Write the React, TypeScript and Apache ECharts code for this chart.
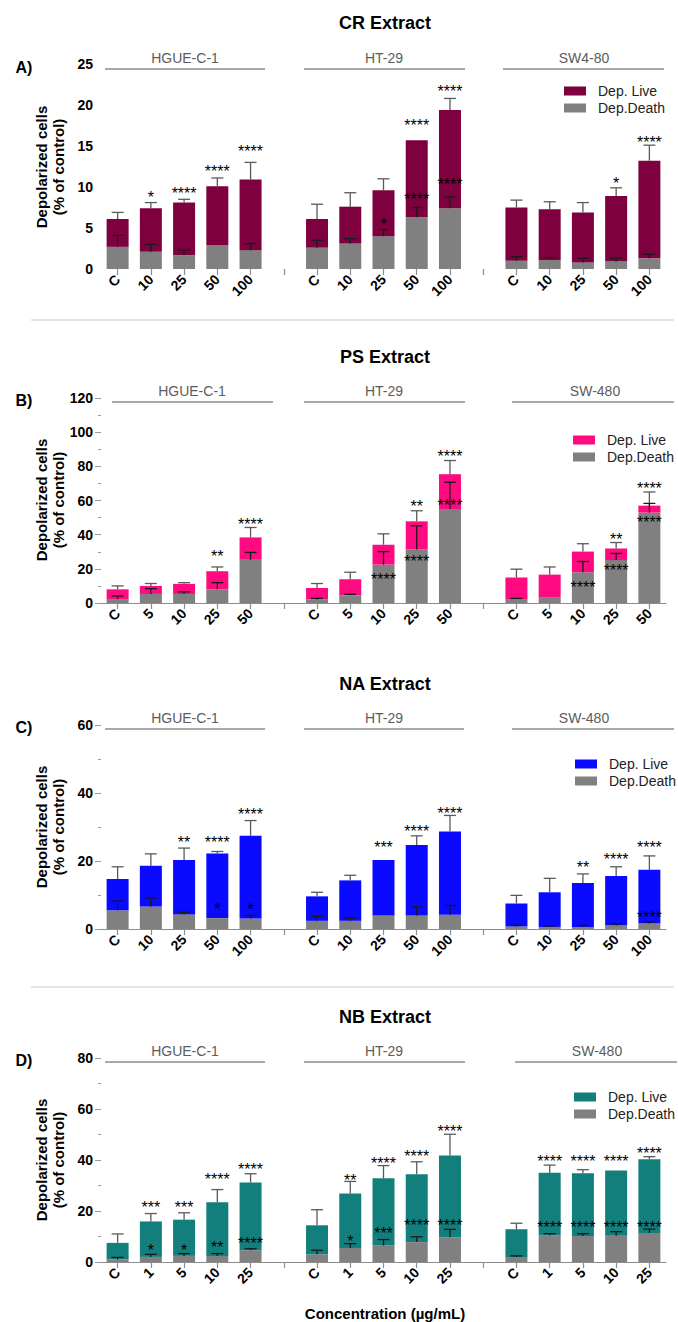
import React, { useEffect, useRef } from "react";
import * as echarts from "echarts";

const FONT = "'Liberation Sans', Arial, Helvetica, sans-serif";

// ---------- categories ----------
const dosesCR = ["C", "10", "25", "50", "100"];
const dosesPS = ["C", "5", "10", "25", "50"];
const dosesNA = ["C", "10", "25", "50", "100"];
const dosesNB = ["C", "1", "5", "10", "25"];
const cellsCR = ["HGUE-C-1", "HT-29", "SW4-80"];
const cellsOther = ["HGUE-C-1", "HT-29", "SW-480"];
const legendNames = ["Dep. Live", "Dep.Death"];

// ---------- CR extract ----------
const crTotal = [6.1, 7.4, 8.1, 10.1, 10.9, 6.1, 7.6, 9.6, 15.7, 19.4, 7.5, 7.3, 6.9, 8.9, 13.2];
const crDeath = [2.7, 2.1, 1.7, 2.9, 2.3, 2.6, 3.1, 4.0, 6.3, 7.4, 1.0, 1.1, 0.8, 0.9, 1.3];
const crTotalErr = [6.9, 8.1, 8.5, 11.1, 13.0, 7.9, 9.3, 11.0, null, 20.8, 8.4, 8.2, 8.1, 9.9, 15.1];
const crDeathErr = [4.1, 3.0, 2.3, null, 3.1, 3.5, 3.7, 4.8, 7.5, 8.8, 1.5, 1.4, 1.3, 1.3, 1.8];
const crTopStars = ["", "*", "****", "****", "****", "", "", "", "****", "****", "", "", "", "*", "****"];
const crTopStarAt = [null, 9.1, 9.55, 12.3, 14.7, null, null, null, 17.85, 22.0, null, null, null, 10.85, 15.8];
const crDeathStars = ["", "", "", "", "", "", "", "*", "****", "****", "", "", "", "", ""];
const crDeathStarAt = [null, null, null, null, null, null, null, 5.85, 8.9, 10.7, null, null, null, null, null];

// ---------- PS extract ----------
const psTotal = [8.0, 10.0, 11.2, 18.6, 38.4, 8.8, 13.9, 34.1, 47.8, 75.4, 14.9, 16.6, 30.1, 31.9, 57.0];
const psDeath = [2.3, 5.3, 5.3, 8.0, 25.3, 2.0, 4.5, 22.5, 31.3, 55.0, 2.3, 3.1, 18.0, 25.1, 52.9];
const psTotalErr = [10.0, 11.4, 11.9, 21.1, 44.2, 11.4, 18.0, 40.5, 54.0, 83.4, 19.8, 21.1, 34.7, 35.4, 65.0];
const psDeathErr = [4.1, 8.4, 6.5, 11.9, 29.6, 2.7, 5.1, 30.1, 45.2, 70.7, 2.7, null, 24.3, 29.0, 58.3];
const psTopStars = ["", "", "", "**", "****", "", "", "", "**", "****", "", "", "", "**", "****"];
const psTopStarAt = [null, null, null, 29.0, 48.0, null, null, null, 58.3, 87.7, null, null, null, 39.2, 68.9];
const psDeathStars = ["", "", "", "", "", "", "", "****", "****", "****", "", "", "****", "****", "****"];
const psDeathStarAt = [null, null, null, null, null, null, null, 15.7, 26.2, 59.1, null, null, 11.0, 20.8, 48.9];

// ---------- NA extract ----------
const naTotal = [14.7, 18.6, 20.3, 22.2, 27.4, 9.6, 14.3, 20.3, 24.7, 28.7, 7.5, 10.8, 13.5, 15.6, 17.4];
const naDeath = [5.5, 6.6, 4.3, 3.2, 3.1, 2.4, 2.4, 4.0, 4.0, 4.2, 0.7, 0.6, 0.6, 1.0, 1.6];
const naTotalErr = [18.3, 22.1, 23.8, 22.8, 31.9, 10.8, 15.8, null, 27.4, 33.4, 9.9, 14.9, 16.2, 18.3, 21.5];
const naDeathErr = [8.2, 9.1, 4.9, null, 4.0, 3.7, 3.2, null, 6.5, 6.9, 1.1, 0.9, 1.1, 1.5, 2.1];
const naTopStars = ["", "", "**", "****", "****", "", "", "***", "****", "****", "", "", "**", "****", "****"];
const naTopStarAt = [null, null, 26.2, 26.2, 34.5, null, null, 24.8, 29.5, 35.0, null, null, 19.1, 21.3, 24.8];
const naDeathStars = ["", "", "", "*", "*", "", "", "", "", "", "", "", "", "", "****"];
const naDeathStarAt = [null, null, null, 6.65, 6.65, null, null, null, null, null, null, null, null, null, 4.4];

// ---------- NB extract ----------
const nbTotal = [7.5, 15.9, 16.6, 23.4, 31.2, 14.4, 26.9, 32.8, 34.4, 41.8, 12.8, 35.0, 34.8, 35.9, 40.3];
const nbDeath = [1.0, 2.0, 2.4, 2.4, 4.6, 3.0, 5.5, 6.5, 7.8, 9.7, 2.0, 10.5, 10.2, 10.3, 11.4];
const nbTotalErr = [11.0, 19.0, 19.3, 28.4, 34.6, 20.5, 31.6, 37.8, 39.3, 50.1, 15.2, 38.0, 36.2, null, 41.3];
const nbDeathErr = [1.8, 3.0, 3.3, 3.3, 5.2, 4.6, 7.2, 8.8, 9.9, 12.8, 2.4, 11.1, 11.1, 11.9, 12.9];
const nbTopStars = ["", "***", "***", "****", "****", "", "**", "****", "****", "****", "", "****", "****", "****", "****"];
const nbTopStarAt = [null, 22.5, 22.5, 33.6, 37.6, null, 33.3, 39.9, 42.5, 52.3, null, 40.5, 40.5, 40.5, 43.8];
const nbDeathStars = ["", "*", "*", "**", "****", "", "*", "***", "****", "****", "", "****", "****", "****", "****"];
const nbDeathStarAt = [null, 5.6, 5.6, 6.9, 8.5, null, 9.15, 12.2, 15.4, 15.4, null, 14.6, 14.6, 14.6, 14.6];

type Num = number | null;
interface Panel {
  key: string;
  title: string;
  letter: string;
  color: string;
  doses: string[];
  cells: string[];
  total: number[];
  death: number[];
  totalErr: Num[];
  deathErr: Num[];
  topStars: string[];
  topStarAt: Num[];
  deathStars: string[];
  deathStarAt: Num[];
  yMax: number;
  yInterval: number;
  yTicks: boolean;
  baseline: boolean;
  // layout (page coordinates)
  top: number;
  height: number;
  gridTop: number;
  gridBottom: number;
  titleY: number;
  letterY: number;
  yTitleY: number;
  groupLabelY: number;
  groupLineY: number;
  groupLines: [number, number][];
  groupLabelX: number[];
  legendLeft: number;
  legendTop: number;
  sepY?: number;
  xTitle?: string;
  xTitleY?: number;
}

const PANELS: Panel[] = [
  {
    key: "A", title: "CR Extract", letter: "A)", color: "#7f003f",
    doses: dosesCR, cells: cellsCR,
    total: crTotal, death: crDeath, totalErr: crTotalErr, deathErr: crDeathErr,
    topStars: crTopStars, topStarAt: crTopStarAt, deathStars: crDeathStars, deathStarAt: crDeathStarAt,
    yMax: 25, yInterval: 5, yTicks: false, baseline: false,
    top: 0, height: 315, gridTop: 64, gridBottom: 269, titleY: 23, letterY: 67, yTitleY: 167,
    groupLabelY: 58, groupLineY: 69,
    groupLines: [[105, 265], [304, 465], [503, 664]], groupLabelX: [185, 384, 584],
    legendLeft: 564, legendTop: 84,
  },
  {
    key: "B", title: "PS Extract", letter: "B)", color: "#ff0a80",
    doses: dosesPS, cells: cellsOther,
    total: psTotal, death: psDeath, totalErr: psTotalErr, deathErr: psDeathErr,
    topStars: psTopStars, topStarAt: psTopStarAt, deathStars: psDeathStars, deathStarAt: psDeathStarAt,
    yMax: 120, yInterval: 20, yTicks: true, baseline: true,
    top: 315, height: 330, gridTop: 398, gridBottom: 603, titleY: 357, letterY: 400, yTitleY: 500,
    groupLabelY: 391, groupLineY: 402,
    groupLines: [[112, 273], [304, 465], [512, 674]], groupLabelX: [192, 384, 595],
    legendLeft: 573, legendTop: 433, sepY: 320,
  },
  {
    key: "C", title: "NA Extract", letter: "C)", color: "#0a0aff",
    doses: dosesNA, cells: cellsOther,
    total: naTotal, death: naDeath, totalErr: naTotalErr, deathErr: naDeathErr,
    topStars: naTopStars, topStarAt: naTopStarAt, deathStars: naDeathStars, deathStarAt: naDeathStarAt,
    yMax: 60, yInterval: 20, yTicks: true, baseline: true,
    top: 645, height: 337, gridTop: 725, gridBottom: 929, titleY: 684, letterY: 727, yTitleY: 827,
    groupLabelY: 718, groupLineY: 729,
    groupLines: [[105, 265], [304, 464], [512, 674]], groupLabelX: [185, 384, 584],
    legendLeft: 575, legendTop: 757,
  },
  {
    key: "D", title: "NB Extract", letter: "D)", color: "#127f7d",
    doses: dosesNB, cells: cellsOther,
    total: nbTotal, death: nbDeath, totalErr: nbTotalErr, deathErr: nbDeathErr,
    topStars: nbTopStars, topStarAt: nbTopStarAt, deathStars: nbDeathStars, deathStarAt: nbDeathStarAt,
    yMax: 80, yInterval: 20, yTicks: true, baseline: true,
    top: 982, height: 340, gridTop: 1058, gridBottom: 1262, titleY: 1017, letterY: 1060, yTitleY: 1160,
    groupLabelY: 1051, groupLineY: 1062,
    groupLines: [[105, 265], [304, 465], [515, 677]], groupLabelX: [185, 384, 597],
    legendLeft: 574, legendTop: 1090, sepY: 987,
    xTitle: "Concentration (\u00b5g/mL)", xTitleY: 1313,
  },
];

const GRID_LEFT = 101;
const GRID_WIDTH = 565;

function buildOption(p: Panel): any {
  const L = (y: number) => y - p.top;
  const cats: string[] = [];
  p.cells.forEach((_, g) => {
    if (g > 0) cats.push("");
    p.doses.forEach((d) => cats.push(d));
  });
  const idx = (i: number) => i + Math.floor(i / 5);
  const pad = (vals: number[]) => {
    const out: any[] = new Array(cats.length).fill("-");
    vals.forEach((v, i) => (out[idx(i)] = v));
    return out;
  };
  const live = p.total.map((t, i) => Math.round((t - p.death[i]) * 100) / 100);

  const errData: number[][] = [];
  const errColors: string[] = [];
  p.total.forEach((t, i) => {
    const e = p.totalErr[i];
    if (e != null) { errData.push([idx(i), t, e]); errColors.push("#5a5a5a"); }
  });
  p.death.forEach((d, i) => {
    const e = p.deathErr[i];
    if (e != null) { errData.push([idx(i), d, e]); errColors.push("#1a1a1a"); }
  });

  const starData: number[][] = [];
  const starLabels: string[] = [];
  p.topStars.forEach((s, i) => {
    const a = p.topStarAt[i];
    if (s && a != null) { starData.push([idx(i), a]); starLabels.push(s); }
  });
  p.deathStars.forEach((s, i) => {
    const a = p.deathStarAt[i];
    if (s && a != null) { starData.push([idx(i), a]); starLabels.push(s); }
  });

  const graphic: any[] = [
    {
      type: "text", x: 385, y: L(p.titleY),
      style: { text: p.title, fontSize: 18, fontWeight: "bold", fontFamily: FONT, fill: "#000",
        align: "center", verticalAlign: "middle", textAlign: "center", textVerticalAlign: "middle" },
    },
    {
      type: "text", x: 24, y: L(p.letterY),
      style: { text: p.letter, fontSize: 16, fontWeight: "bold", fontFamily: FONT, fill: "#000",
        align: "center", verticalAlign: "middle", textAlign: "center", textVerticalAlign: "middle" },
    },
    {
      type: "text", x: 50, y: L(p.yTitleY), rotation: Math.PI / 2,
      style: { text: "Depolarized cells\n(% of control)", fontSize: 15, fontWeight: "bold", fontFamily: FONT,
        fill: "#000", lineHeight: 17, align: "center", verticalAlign: "middle", textAlign: "center", textVerticalAlign: "middle" },
    },
  ];
  p.cells.forEach((c, g) => {
    graphic.push({
      type: "text", x: p.groupLabelX[g], y: L(p.groupLabelY),
      style: { text: c, fontSize: 14, fontFamily: FONT, fill: "#5c5c5c",
        align: "center", verticalAlign: "middle", textAlign: "center", textVerticalAlign: "middle" },
    });
    graphic.push({
      type: "line",
      shape: { x1: p.groupLines[g][0], y1: L(p.groupLineY), x2: p.groupLines[g][1], y2: L(p.groupLineY) },
      style: { stroke: "#8c8c8c", lineWidth: 1.5 },
    });
  });
  if (p.sepY != null) {
    graphic.push({
      type: "line", shape: { x1: 31, y1: L(p.sepY), x2: 674, y2: L(p.sepY) },
      style: { stroke: "#dcdcdc", lineWidth: 1.5 },
    });
  }
  if (p.xTitle && p.xTitleY != null) {
    graphic.push({
      type: "text", x: 385, y: L(p.xTitleY),
      style: { text: p.xTitle, fontSize: 15, fontWeight: "bold", fontFamily: FONT, fill: "#000",
        align: "center", verticalAlign: "middle", textAlign: "center", textVerticalAlign: "middle" },
    });
  }

  return {
    animation: false,
    textStyle: { fontFamily: FONT },
    grid: { left: GRID_LEFT, width: GRID_WIDTH, top: L(p.gridTop), height: p.gridBottom - p.gridTop },
    legend: {
      data: legendNames,
      orient: "vertical",
      left: p.legendLeft,
      top: L(p.legendTop),
      padding: 0,
      itemGap: 3,
      itemWidth: 22,
      itemHeight: 9,
      icon: "rect",
      selectedMode: false,
      textStyle: { fontSize: 14, color: "#222", fontFamily: FONT, padding: [0, 0, 0, 7] },
    },
    xAxis: {
      type: "category",
      data: cats,
      axisLine: { show: p.baseline, lineStyle: { color: "#8c8c8c", width: 1.2 } },
      axisTick: { show: true, alignWithLabel: true, interval: 0, length: 6, lineStyle: { color: "#8c8c8c", width: 1.2 } },
      axisLabel: { interval: 0, rotate: 45, fontSize: 14, fontWeight: "bold", color: "#000", margin: 8, fontFamily: FONT },
    },
    yAxis: {
      type: "value",
      min: 0,
      max: p.yMax,
      interval: p.yInterval,
      splitLine: { show: false },
      axisLine: { show: false },
      axisTick: { show: p.yTicks, length: 6, lineStyle: { color: "#9a9a9a" } },
      minorTick: { show: p.yTicks, splitNumber: 2, length: 3, lineStyle: { color: "#9a9a9a" } },
      axisLabel: { fontSize: 14, fontWeight: "bold", color: "#000", margin: 8, fontFamily: FONT },
    },
    series: [
      {
        type: "bar", name: "Dep.Death", stack: "dep", data: pad(p.death), barWidth: 22,
        itemStyle: { color: "#808080" },
      },
      {
        type: "bar", name: "Dep. Live", stack: "dep", data: pad(live), barWidth: 22,
        itemStyle: { color: p.color },
      },
      {
        type: "custom",
        name: "err",
        z: 5,
        data: errData,
        encode: { x: 0, y: [1, 2] },
        renderItem: (params: any, api: any) => {
          const x = api.value(0);
          const p0 = api.coord([x, api.value(1)]);
          const p1 = api.coord([x, api.value(2)]);
          const col = errColors[params.dataIndex];
          return {
            type: "group",
            children: [
              { type: "line", shape: { x1: p0[0], y1: p0[1], x2: p1[0], y2: p1[1] }, style: { stroke: col, lineWidth: 1.3 } },
              { type: "line", shape: { x1: p1[0] - 6, y1: p1[1], x2: p1[0] + 6, y2: p1[1] }, style: { stroke: col, lineWidth: 1.3 } },
            ],
          };
        },
      },
      {
        type: "custom",
        name: "stars",
        z: 6,
        data: starData,
        encode: { x: 0, y: 1 },
        renderItem: (params: any, api: any) => {
          const pt = api.coord([api.value(0), api.value(1)]);
          return {
            type: "text",
            x: pt[0],
            y: pt[1] + 3,
            style: {
              text: starLabels[params.dataIndex], fontSize: 16, fontWeight: "normal", fontFamily: FONT, fill: "#000",
              align: "center", verticalAlign: "middle",
            },
          };
        },
      },
    ],
    graphic,
  };
}

export default function App() {
  const refs = useRef<(HTMLDivElement | null)[]>([]);
  useEffect(() => {
    const charts = PANELS.map((p, i) => {
      const c = echarts.init(refs.current[i] as HTMLDivElement, null, { renderer: "svg" });
      c.setOption(buildOption(p));
      return c;
    });
    return () => charts.forEach((c) => c.dispose());
  }, []);
  return (
    <div style={{ position: "fixed", left: 0, top: 0, width: 678, height: 1322, background: "#fff" }}>
      {PANELS.map((p, i) => (
        <div
          key={p.key}
          ref={(el) => { refs.current[i] = el; }}
          style={{ position: "absolute", left: 0, top: p.top, width: 678, height: p.height }}
        />
      ))}
    </div>
  );
}
